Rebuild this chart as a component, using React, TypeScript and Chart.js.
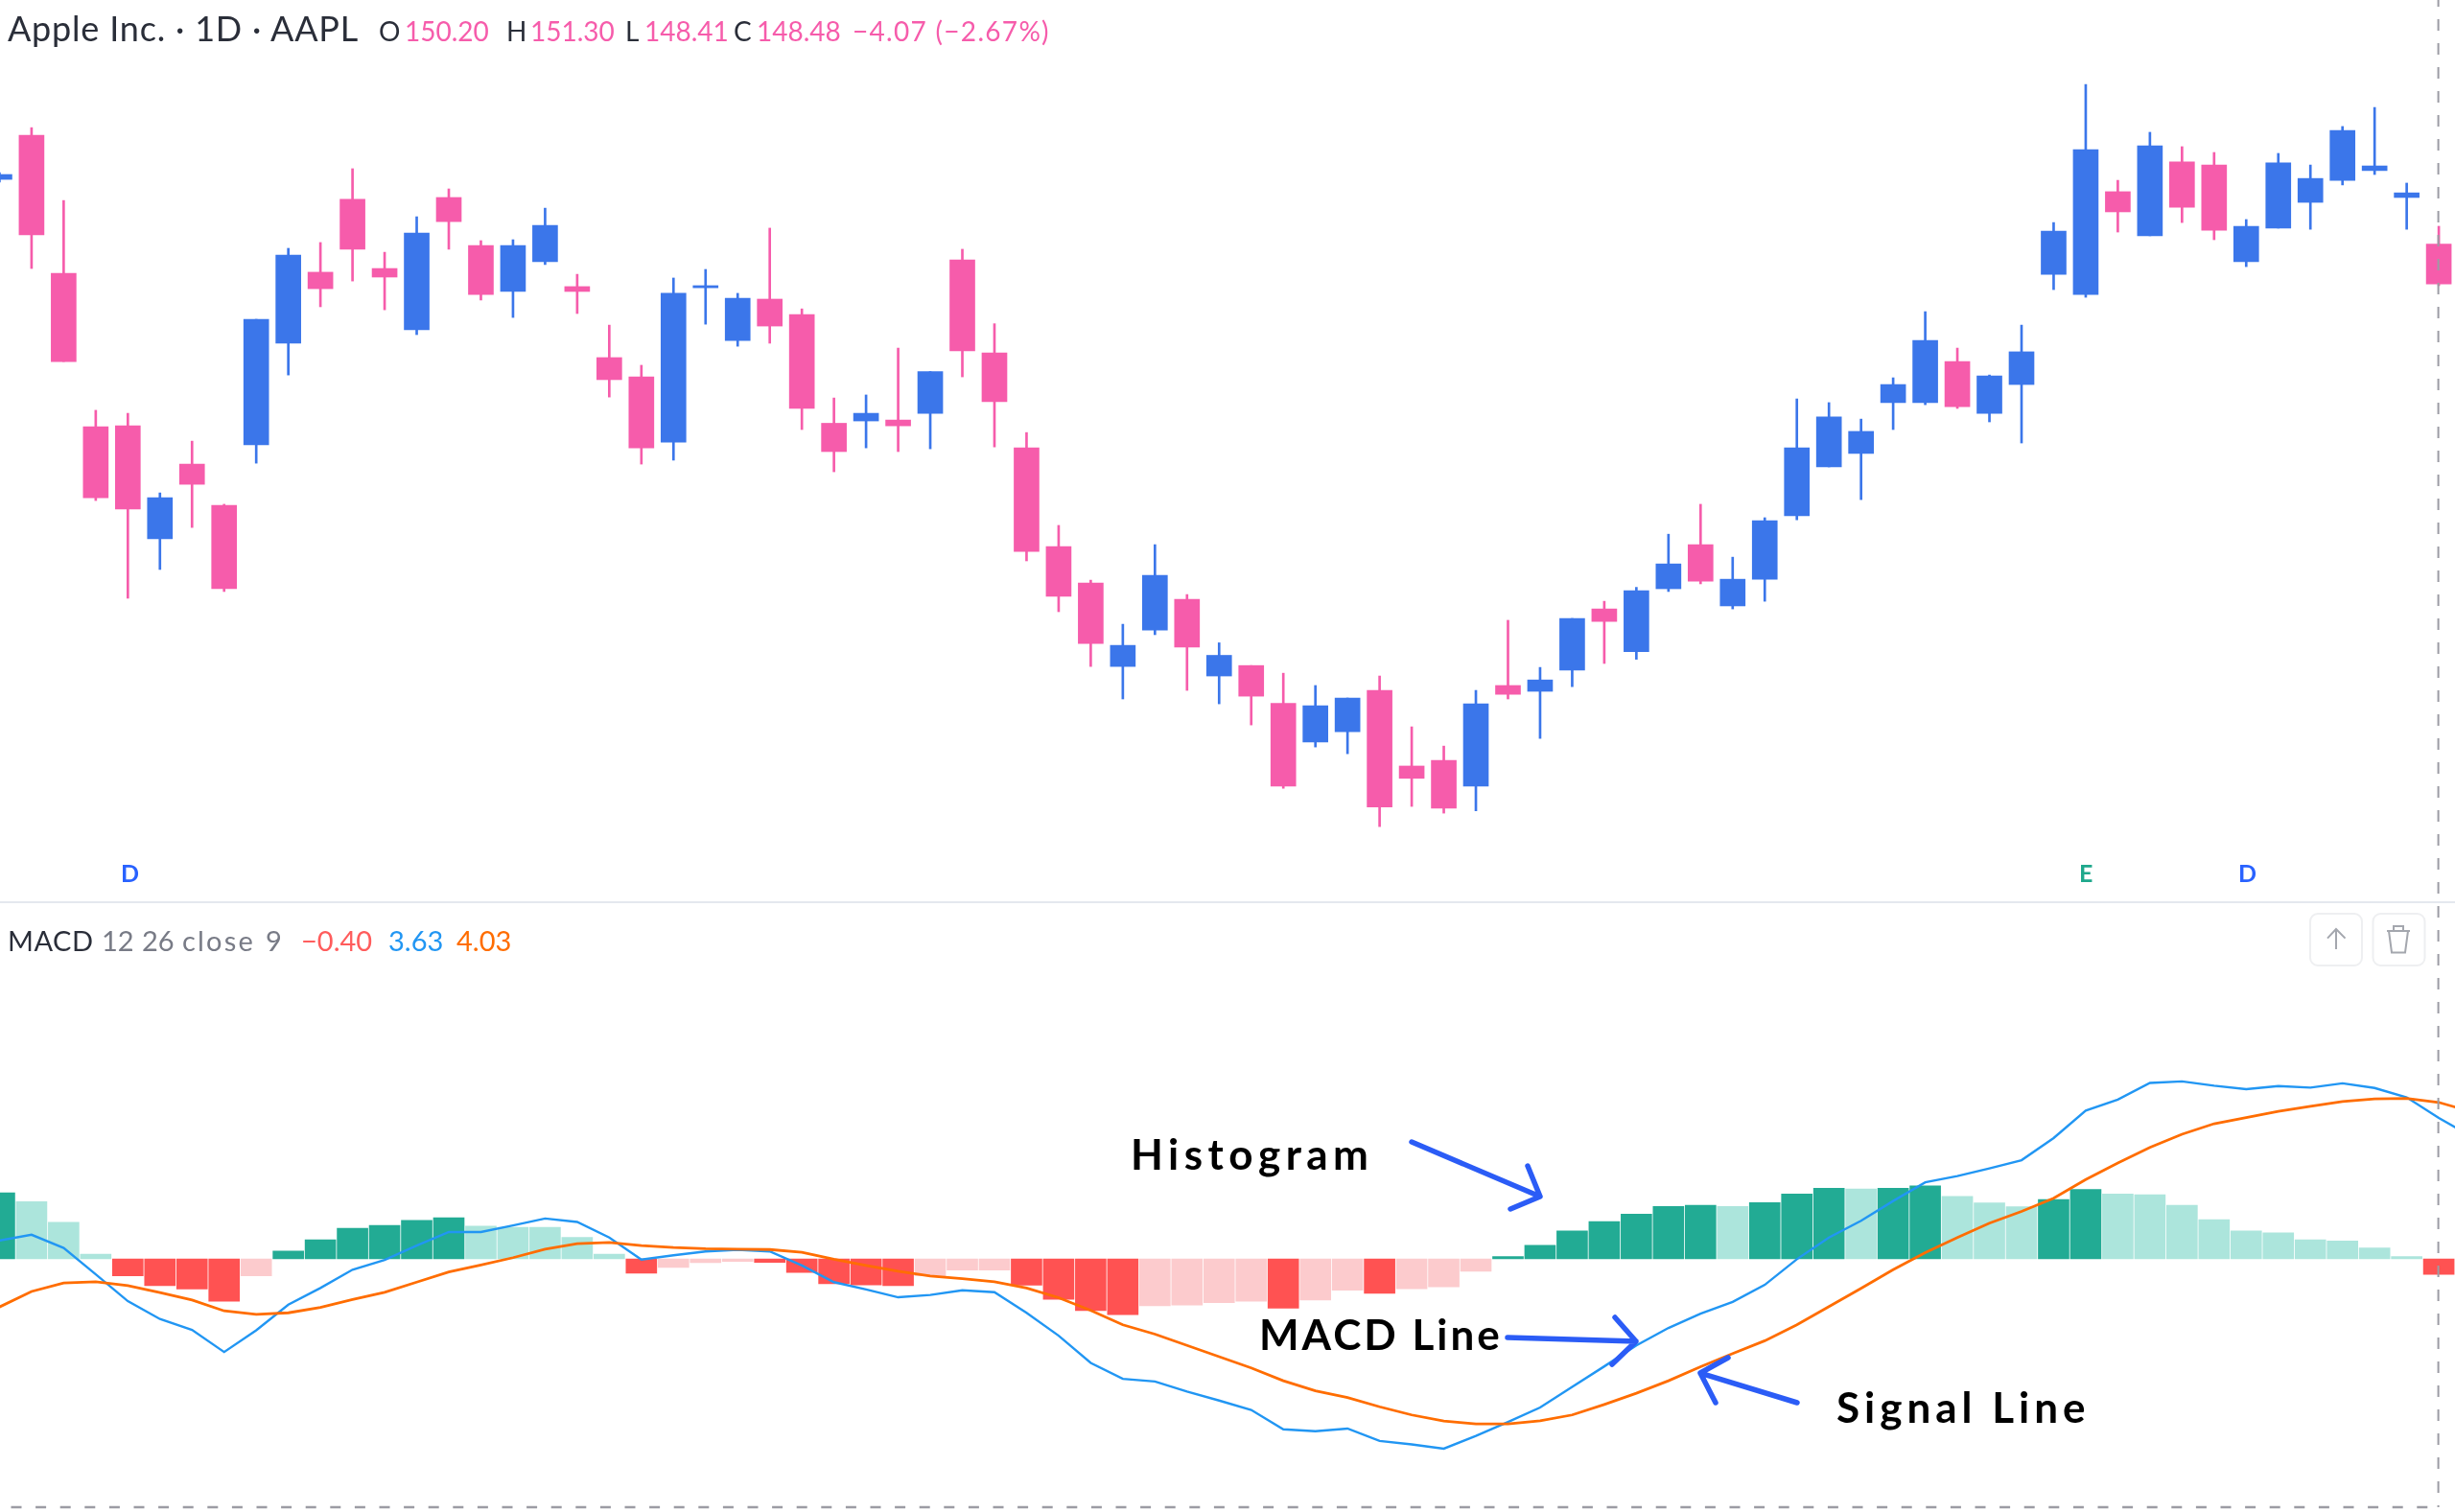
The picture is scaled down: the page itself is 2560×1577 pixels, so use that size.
import React, { useEffect, useRef } from "react";
import { Chart, registerables } from "chart.js";

Chart.register(...registerables);

const firstDay = -1;
const opens = [152.99,154.89,148.94,142.33,142.37,137.50,140.72,138.94,141.55,145.93,148.99,152.13,149.15,146.51,152.21,150.14,148.16,149.44,148.37,145.31,144.48,141.67,148.32,146.05,147.83,147.17,142.48,142.58,142.62,142.91,149.52,145.51,141.42,137.17,135.60,132.00,133.57,134.89,131.59,132.04,130.41,128.74,129.19,130.97,127.71,127.95,126.84,131.18,130.93,131.84,134.48,132.64,135.35,137.25,134.61,135.76,138.49,140.60,141.18,143.37,143.37,145.14,142.91,144.15,148.90,148.03,152.46,150.56,153.74,153.61,149.44,150.89,152.00,152.95,153.37,152.21,150.20];
const highs = [153.28,155.22,152.08,143.04,142.91,139.48,141.71,138.99,146.96,150.02,150.27,153.45,149.85,151.38,152.58,150.35,150.39,151.75,148.90,146.71,144.98,148.74,149.11,148.08,150.89,147.41,143.57,143.70,145.72,144.71,149.98,146.77,142.08,138.08,135.72,133.82,137.25,135.10,133.02,132.04,131.71,131.18,130.64,131.59,129.40,128.57,130.97,133.99,131.96,134.07,134.81,135.41,137.70,138.99,136.71,138.41,143.53,143.37,142.66,144.44,147.29,145.72,144.56,146.71,151.13,157.08,152.95,155.02,154.40,154.15,151.26,154.11,153.61,155.27,156.09,152.83,150.97];
const lows = [152.87,149.15,145.14,139.15,134.94,136.18,137.99,135.23,140.76,144.56,147.50,148.61,147.37,146.30,149.98,147.79,147.04,149.32,147.21,143.61,140.72,140.89,146.75,145.80,145.93,142.21,140.39,141.42,141.26,141.38,144.48,141.46,136.55,134.36,132.00,130.60,133.37,130.97,130.39,129.48,126.75,128.53,128.24,125.10,125.97,125.68,125.78,130.60,128.90,131.13,132.13,132.31,135.23,135.56,134.48,134.81,138.32,140.60,139.19,142.21,143.28,143.12,142.54,141.63,148.24,147.91,150.72,150.56,151.13,150.39,149.23,150.89,150.84,152.75,153.20,150.84,148.41];
const closes = [153.20,150.60,145.14,139.27,138.78,139.27,139.85,135.35,146.96,149.73,148.28,149.98,148.78,150.68,151.17,148.03,150.14,151.01,148.16,144.36,141.42,148.08,148.41,147.87,146.67,143.12,141.26,142.91,142.37,144.71,145.60,143.41,136.96,135.02,132.99,132.91,135.93,132.83,132.48,130.72,126.84,130.31,130.64,125.95,127.18,125.89,130.39,130.80,131.42,134.07,133.94,135.27,136.42,135.68,135.76,138.28,141.42,142.75,142.13,144.15,146.05,143.20,144.52,145.56,150.76,154.27,151.59,154.44,151.79,150.80,150.97,153.70,153.03,155.10,153.57,152.41,148.48];
const histValues = [1.70,1.47,0.94,0.12,-0.44,-0.69,-0.78,-1.09,-0.44,0.20,0.49,0.79,0.86,0.99,1.06,0.84,0.81,0.81,0.55,0.12,-0.37,-0.22,-0.10,-0.07,-0.09,-0.35,-0.64,-0.67,-0.69,-0.44,-0.29,-0.29,-0.68,-1.04,-1.33,-1.44,-1.21,-1.19,-1.13,-1.09,-1.27,-1.06,-0.81,-0.89,-0.77,-0.72,-0.32,0.06,0.35,0.72,0.96,1.15,1.35,1.38,1.35,1.45,1.67,1.82,1.80,1.82,1.88,1.61,1.44,1.34,1.53,1.79,1.67,1.65,1.38,1.01,0.72,0.67,0.49,0.46,0.28,0.06,-0.40];
const macdValues = [0.47,0.62,0.28,-0.40,-1.09,-1.55,-1.83,-2.40,-1.84,-1.18,-0.75,-0.28,-0.03,0.34,0.69,0.69,0.86,1.04,0.95,0.55,-0.02,0.09,0.19,0.23,0.19,-0.17,-0.60,-0.79,-0.99,-0.93,-0.81,-0.86,-1.39,-1.98,-2.68,-3.09,-3.16,-3.42,-3.65,-3.89,-4.39,-4.44,-4.37,-4.69,-4.78,-4.89,-4.56,-4.20,-3.83,-3.30,-2.77,-2.23,-1.78,-1.41,-1.11,-0.67,-0.01,0.55,0.98,1.49,1.97,2.13,2.33,2.54,3.11,3.82,4.10,4.53,4.57,4.46,4.37,4.45,4.41,4.52,4.40,4.16,3.63,3.16];
const signalValues = [-1.24,-0.84,-0.62,-0.59,-0.69,-0.87,-1.06,-1.34,-1.43,-1.39,-1.25,-1.05,-0.86,-0.60,-0.34,-0.16,0.03,0.25,0.39,0.42,0.34,0.29,0.26,0.25,0.24,0.17,-0.01,-0.17,-0.32,-0.44,-0.51,-0.59,-0.75,-1.00,-1.33,-1.70,-1.94,-2.23,-2.52,-2.81,-3.14,-3.40,-3.57,-3.81,-4.02,-4.18,-4.25,-4.25,-4.17,-4.02,-3.75,-3.46,-3.14,-2.78,-2.44,-2.11,-1.70,-1.23,-0.76,-0.28,0.16,0.55,0.92,1.22,1.56,2.04,2.47,2.87,3.21,3.48,3.64,3.80,3.93,4.05,4.12,4.13,4.03,3.79];

const headerOHLC = [
  { k: "O", v: "150.20", kx: 395, vx: 422 },
  { k: "H", v: "151.30", kx: 528, vx: 553 },
  { k: "L", v: "148.41", kx: 652, vx: 672 },
  { k: "C", v: "148.48", kx: 765, vx: 789 },
];

const UP = "#3B76EA";
const DOWN = "#F65CAB";
const X_RANGE = { min: -0.983, max: 75.505 };
const FONT = "Lato, sans-serif";

const hiddenAxis = { display: false, grid: { display: false } };

function histColor(v: number, i: number) {
  const prev = i > 0 ? histValues[i - 1] : v - 1;
  if (v >= 0) return v > prev ? "#22AB94" : "#ACE5DC";
  return v < prev ? "#FF5252" : "#FCCBCD";
}

function Label({ x, base, size, color, weight = 400, spacing = 0, children }: any) {
  return (
    <div
      style={{
        position: "absolute",
        left: x,
        top: base - 0.887 * size,
        fontFamily: FONT,
        fontSize: size,
        lineHeight: 1,
        color,
        fontWeight: weight,
        letterSpacing: spacing,
        whiteSpace: "pre",
      }}
    >
      {children}
    </div>
  );
}

export default function App() {
  const priceRef = useRef<HTMLCanvasElement>(null);
  const macdRef = useRef<HTMLCanvasElement>(null);

  useEffect(() => {
    const candleColors = opens.map((o, i) => (closes[i] >= o ? UP : DOWN));
    const price = new Chart(priceRef.current!, {
      type: "bar",
      data: {
        datasets: [
          {
            data: opens.map((_, i) => ({ x: i + firstDay, y: [lows[i], highs[i]] })),
            backgroundColor: candleColors,
            barThickness: 2,
            grouped: false,
            order: 2,
          },
          {
            data: opens.map((o, i) => ({ x: i + firstDay, y: [o, closes[i]] })),
            backgroundColor: candleColors,
            barThickness: 26,
            grouped: false,
            order: 1,
          },
        ],
      } as any,
      options: {
        animation: false,
        responsive: false,
        devicePixelRatio: 1,
        layout: { padding: 0 },
        plugins: { legend: { display: false }, tooltip: { enabled: false } },
        scales: {
          x: { type: "linear", offset: false, ...X_RANGE, ...hiddenAxis },
          y: { min: 121.8, max: 160.72, ...hiddenAxis },
        },
      } as any,
    });
    const macd = new Chart(macdRef.current!, {
      type: "bar",
      data: {
        datasets: [
          {
            type: "line",
            data: macdValues.map((v, i) => ({ x: i + firstDay, y: v })),
            borderColor: "#2196F3",
            borderWidth: 2.4,
            pointRadius: 0,
            tension: 0,
            order: 2,
          },
          {
            type: "line",
            data: signalValues.map((v, i) => ({ x: i + firstDay, y: v })),
            borderColor: "#FF6D00",
            borderWidth: 2.8,
            pointRadius: 0,
            tension: 0,
            order: 1,
          },
          {
            type: "bar",
            data: histValues.map((v, i) => ({ x: i + firstDay, y: v })),
            backgroundColor: histValues.map(histColor),
            barThickness: 32,
            order: 3,
          },
        ],
      } as any,
      options: {
        animation: false,
        responsive: false,
        devicePixelRatio: 1,
        layout: { padding: 0 },
        plugins: { legend: { display: false }, tooltip: { enabled: false } },
        scales: {
          x: { type: "linear", offset: false, ...X_RANGE, ...hiddenAxis },
          y: { min: -6.52, max: 9.16, ...hiddenAxis },
        },
      } as any,
    });
    return () => {
      price.destroy();
      macd.destroy();
    };
  }, []);

  const arrow = "#2B5CF6";
  const icon = "#A4A7AE";
  return (
    <div style={{ position: "absolute", left: 0, top: 0, width: 2560, height: 1577, overflow: "hidden", background: "#fff" }}>
      <canvas ref={priceRef} width={2560} height={942} style={{ position: "absolute", left: 0, top: 0, display: "block" }} />
      <canvas ref={macdRef} width={2560} height={635} style={{ position: "absolute", left: 0, top: 942, display: "block" }} />

      <svg width={2560} height={1577} style={{ position: "absolute", left: 0, top: 0 }}>
        <rect x={0} y={940} width={2560} height={2} fill="#E4E8EE" />
        <line x1={2542.6} y1={-5} x2={2542.6} y2={1572} stroke="#9C9CA4" strokeWidth={2} strokeDasharray="12 13" />
        <line x1={11.5} y1={1572} x2={2542} y2={1572} stroke="#9C9CA4" strokeWidth={2.5} strokeDasharray="11 14.6" />

        <rect x={2409} y={953} width={54} height={54} rx={8} fill="#fff" stroke="#EEEFF1" strokeWidth={2} />
        <rect x={2474.5} y={953} width={54} height={54} rx={8} fill="#fff" stroke="#EEEFF1" strokeWidth={2} />
        <path d="M2436 990 V969 M2427 978.6 L2436 969 L2445.5 978.6" fill="none" stroke={icon} strokeWidth={2} />
        <path d="M2489 971 H2513 M2491 971 L2494 993.5 H2508 L2511 971 M2496 971 V966 H2506 V971" fill="none" stroke={icon} strokeWidth={2} />

        <g fill="none" stroke={arrow} strokeWidth={5.5} strokeLinecap="round" strokeLinejoin="round">
          <path d="M1472 1191 L1606 1248 M1593 1216 L1606 1248 L1575 1261" />
          <path d="M1572 1395 L1706 1399 M1684 1374 L1706 1399 L1681 1423" />
          <path d="M1874 1463 L1773 1432 M1802 1416 L1773 1432 L1789 1463" />
        </g>
      </svg>

      <Label x={8} base={43} size={36} spacing={0.8} color="#2A2E39">Apple Inc. · 1D · AAPL</Label>
      {headerOHLC.map((h) => (
        <React.Fragment key={h.k}>
          <Label x={h.kx} base={43} size={28} color="#2A2E39">{h.k}</Label>
          <Label x={h.vx} base={43} size={28} color={DOWN}>{h.v}</Label>
        </React.Fragment>
      ))}
      <Label x={889} base={43} size={28} spacing={1.3} color={DOWN}>−4.07 (−2.67%)</Label>

      <Label x={126} base={920} size={25} weight={700} color="#2962FF">D</Label>
      <Label x={2168} base={920} size={25} weight={700} color="#1FA88C">E</Label>
      <Label x={2334} base={920} size={25} weight={700} color="#2962FF">D</Label>

      <Label x={8} base={992} size={29} spacing={0.5} color="#2A2E39">MACD</Label>
      <Label x={106} base={992} size={29} color="#787B86">12</Label>
      <Label x={148} base={992} size={29} color="#787B86">26</Label>
      <Label x={190} base={992} size={29} spacing={2.2} color="#787B86">close</Label>
      <Label x={277} base={992} size={29} color="#787B86">9</Label>
      <Label x={314} base={992} size={29} color="#FF5C5C">−0.40</Label>
      <Label x={405} base={992} size={29} color="#2196F3">3.63</Label>
      <Label x={476} base={992} size={29} color="#FF6D00">4.03</Label>

      <Label x={1179} base={1220} size={44} weight={700} spacing={5.5} color="#000">Histogram</Label>
      <Label x={1313} base={1408} size={44} weight={700} spacing={3} color="#000">MACD Line</Label>
      <Label x={1915} base={1484} size={44} weight={700} spacing={5} color="#000">Signal Line</Label>
    </div>
  );
}
